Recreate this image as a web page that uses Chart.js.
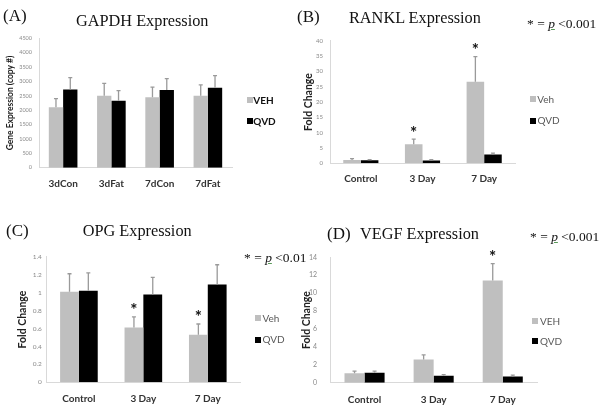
<!DOCTYPE html>
<html><head><meta charset="utf-8">
<script src="https://cdn.jsdelivr.net/npm/chart.js@4"></script>
<style>
body{margin:0;background:#fff;width:604px;height:410px;overflow:hidden;position:relative;font-family:Lato,sans-serif}
canvas{position:absolute;left:0;top:0;pointer-events:none}
.s{position:absolute;font-family:"Liberation Serif",serif;color:#111;white-space:nowrap;line-height:1}
.ttl{font-size:16.3px}
.lab{font-size:17px}
.pn{font-size:13.5px}
.pn u{text-decoration-color:#5a9a5a}
.lg{position:absolute;font-family:Lato,sans-serif;font-size:10px;line-height:1;color:#595959;white-space:nowrap}
.sq{position:absolute;width:6px;height:6px}
</style></head><body>
<canvas id="cA" width="604" height="410"></canvas>
<canvas id="cB" width="604" height="410"></canvas>
<canvas id="cC" width="604" height="410"></canvas>
<canvas id="cD" width="604" height="410"></canvas>

<div class="s lab" style="left:3px;top:7px">(A)</div>
<div class="s ttl" style="left:76px;top:12.5px">GAPDH Expression</div>
<div class="s lab" style="left:297px;top:8px">(B)</div>
<div class="s ttl" style="left:349px;top:9.5px">RANKL Expression</div>
<div class="s pn" style="left:527px;top:17px">* = <i><u>p</u></i> &lt;0.001</div>
<div class="s lab" style="left:6px;top:221.5px">(C)</div>
<div class="s ttl" style="left:82.7px;top:222.5px">OPG Expression</div>
<div class="s pn" style="left:244px;top:250.5px">* = <i><u>p</u></i> &lt;0.01</div>
<div class="s lab" style="left:327px;top:225px">(D)</div>
<div class="s ttl" style="left:360px;top:226px">VEGF Expression</div>
<div class="s pn" style="left:530px;top:229.7px">* = <i><u>p</u></i> &lt;0.001</div>

<div class="sq" style="left:246.7px;top:97.3px;background:#bfbfbf"></div>
<div class="lg" style="left:253.3px;top:95.3px;font-weight:bold;color:#111">VEH</div>
<div class="sq" style="left:246.7px;top:118.3px;background:#000"></div>
<div class="lg" style="left:253.3px;top:116px;font-weight:bold;color:#111">QVD</div>

<div class="sq" style="left:530px;top:96px;background:#bfbfbf"></div>
<div class="lg" style="left:537.3px;top:93.5px">Veh</div>
<div class="sq" style="left:530px;top:117.7px;background:#000"></div>
<div class="lg" style="left:537.5px;top:115px">QVD</div>

<div class="sq" style="left:255px;top:315px;background:#bfbfbf"></div>
<div class="lg" style="left:262.5px;top:312.5px">Veh</div>
<div class="sq" style="left:255px;top:336.7px;background:#000"></div>
<div class="lg" style="left:262.5px;top:334.2px">QVD</div>

<div class="sq" style="left:531.7px;top:318.3px;background:#bfbfbf"></div>
<div class="lg" style="left:540px;top:315.7px">VEH</div>
<div class="sq" style="left:531.7px;top:338.3px;background:#000"></div>
<div class="lg" style="left:540px;top:336px">QVD</div>

<script>
// ---- data ----
const gapdhCategories = ['3dCon', '3dFat', '7dCon', '7dFat'];
const gapdhVeh = [2100, 2500, 2450, 2500];
const gapdhVehErr = [300, 430, 350, 380];
const gapdhQvd = [2720, 2330, 2700, 2780];
const gapdhQvdErr = [410, 350, 400, 420];
const gapdhSig = [false, false, false, false];
const gapdhTicks = [0, 4500, 500];

const dayCategories = ['Control', '3 Day', '7 Day'];

const ranklVeh = [1.1, 6.2, 26.6];
const ranklVehErr = [0.4, 1.7, 8.2];
const ranklQvd = [1.0, 0.9, 2.9];
const ranklQvdErr = [0.2, 0.3, 0.4];
const ranklSig = [false, true, true];
const ranklTicks = [0, 40, 5];

const opgVeh = [1.01, 0.61, 0.53];
const opgVehErr = [0.2, 0.12, 0.12];
const opgQvd = [1.02, 0.98, 1.09];
const opgQvdErr = [0.2, 0.19, 0.22];
const opgSig = [false, true, true];
const opgTicks = [0, 1.4, 0.2];

const vegfVeh = [1.05, 2.6, 11.4];
const vegfVehErr = [0.25, 0.5, 1.9];
const vegfQvd = [1.1, 0.78, 0.7];
const vegfQvdErr = [0.2, 0.12, 0.15];
const vegfSig = [false, false, true];
const vegfTicks = [0, 14, 2];

const GRAY = '#bfbfbf', BLACK = '#000000';

const errBars = {
  id: 'errBars',
  afterDatasetsDraw(chart, args, opts) {
    const ctx = chart.ctx, y = chart.scales.y;
    ctx.save();
    chart.data.datasets.forEach((ds, i) => {
      const meta = chart.getDatasetMeta(i);
      meta.data.forEach((bar, j) => {
        const top = y.getPixelForValue(ds.data[j] + ds.errors[j]);
        ctx.strokeStyle = '#9a9a9a';
        ctx.lineWidth = 1.3;
        ctx.beginPath();
        ctx.moveTo(bar.x, bar.y);
        ctx.lineTo(bar.x, top);
        ctx.moveTo(bar.x - 2, top);
        ctx.lineTo(bar.x + 2, top);
        ctx.stroke();
        if (i === 0 && opts.sig && opts.sig[j]) {
          ctx.fillStyle = '#111';
          ctx.font = 'bold 17px Lato';
          ctx.textAlign = 'center';
          ctx.textBaseline = 'alphabetic';
          ctx.fillText('*', bar.x, top - 10 + 9.5);
        }
      });
    });
    ctx.restore();
  }
};

function makeChart(id, p) {
  new Chart(document.getElementById(id), {
    type: 'bar',
    data: {
      labels: p.labels,
      datasets: [
        { data: p.veh, errors: p.vehErr, backgroundColor: GRAY, borderWidth: 0,
          categoryPercentage: p.cat, barPercentage: 1 },
        { data: p.qvd, errors: p.qvdErr, backgroundColor: BLACK, borderWidth: 0,
          categoryPercentage: p.cat, barPercentage: 1 }
      ]
    },
    options: {
      responsive: false,
      animation: false,
      events: [],
      layout: { padding: { left: p.pl, top: p.t, right: 604 - p.r, bottom: 410 - p.b - 30 } },
      plugins: { legend: { display: false }, tooltip: { enabled: false }, title: { display: false },
                 errBars: { sig: p.sig } },
      scales: {
        x: {
          grid: { display: false, drawTicks: false },
          border: { display: true, color: '#d9d9d9', width: 1 },
          ticks: { font: { family: 'Lato', size: 10, weight: 'bold' }, color: '#333', padding: p.xpad },
          afterFit(s) { s.height = 30; }
        },
        y: {
          min: p.ticks[0], max: p.ticks[1],
          grid: { display: false, drawTicks: false },
          border: { display: true, color: '#d9d9d9', width: 1 },
          ticks: { stepSize: p.ticks[2], font: { family: 'Lato', size: p.tf }, color: '#8a8a8a', padding: p.ypad,
                   callback: v => String(Number(v.toFixed(1))) },
          title: { display: true, text: p.ytitle, color: '#222',
                   font: { family: 'Lato', size: p.ytf, weight: 'bold' }, padding: { top: p.ytp, bottom: 0 } },
          afterFit(s) { s.width = p.l - p.pl; }
        }
      }
    },
    plugins: [errBars]
  });
}

makeChart('cA', { labels: gapdhCategories, veh: gapdhVeh, vehErr: gapdhVehErr, qvd: gapdhQvd, qvdErr: gapdhQvdErr,
  sig: gapdhSig, ticks: gapdhTicks, cat: 0.593, pl: 0, l: 39, r: 232, t: 38.3, b: 167.7,
  xpad: 10, ypad: 7, tf: 5.5, ytitle: 'Gene Expression (copy #)', ytf: 8.5, ytp: 5.4 });

makeChart('cB', { labels: dayCategories, veh: ranklVeh, vehErr: ranklVehErr, qvd: ranklQvd, qvdErr: ranklQvdErr,
  sig: ranklSig, ticks: ranklTicks, cat: 0.57, pl: 300, l: 330, r: 515, t: 40.7, b: 163.3,
  xpad: 9, ypad: 7, tf: 6, ytitle: 'Fold Change', ytf: 10.5, ytp: 2.2 });

makeChart('cC', { labels: dayCategories, veh: opgVeh, vehErr: opgVehErr, qvd: opgQvd, qvdErr: opgQvdErr,
  sig: opgSig, ticks: opgTicks, cat: 0.584, pl: 0, l: 46.7, r: 240, t: 256.7, b: 382.3,
  xpad: 10, ypad: 5, tf: 6.5, ytitle: 'Fold Change', ytf: 10.5, ytp: 16.2 });

makeChart('cD', { labels: dayCategories, veh: vegfVeh, vehErr: vegfVehErr, qvd: vegfQvd, qvdErr: vegfQvdErr,
  sig: vegfSig, ticks: vegfTicks, cat: 0.58, pl: 300, l: 330, r: 537.3, t: 257.3, b: 382.7,
  xpad: 11, ypad: 13, tf: 7, ytitle: 'Fold Change', ytf: 10.5, ytp: 0.2 });
</script>
</body></html>
